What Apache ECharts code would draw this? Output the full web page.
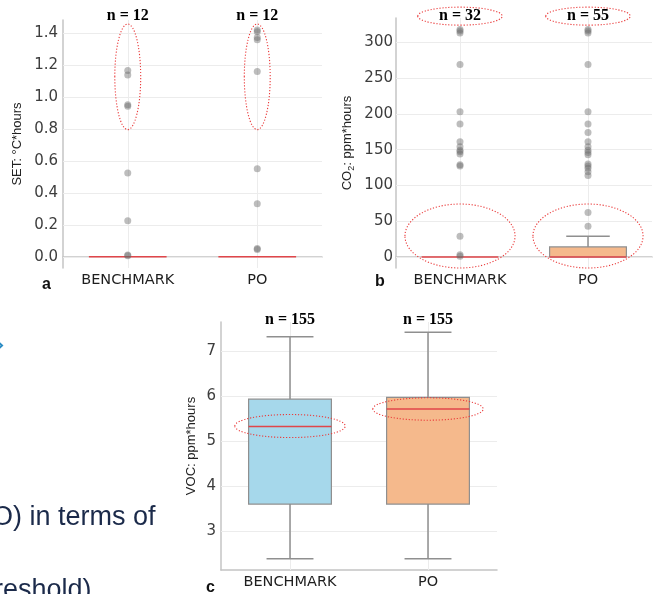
<!DOCTYPE html>
<html><head><meta charset="utf-8">
<script src="https://cdn.jsdelivr.net/npm/echarts@6/dist/echarts.min.js"></script>
<style>html,body{margin:0;padding:0;background:#fff;overflow:hidden}#c{width:664px;height:594px}</style>
</head><body><div id="c"></div>
<script>
// ---------- data ----------
const categories = ['BENCHMARK', 'PO'];

// Panel a: SET (°C*hours) — outlier points and box stats [min, q1, median, q3, max]
const setBenchmarkPoints = [1.164, 1.137, 0.951, 0.941, 0.524, 0.225, 0.012, 0.006];
const setPoPoints = [1.417, 1.406, 1.37, 1.357, 1.158, 0.551, 0.332, 0.052, 0.046];
const setBoxes = [[0, 0, 0, 0, 0], [0, 0, 0, 0, 0]];
const setTicks = [0, 0.2, 0.4, 0.6, 0.8, 1.0, 1.2, 1.4];
const setCounts = ['n = 12', 'n = 12'];

// Panel b: CO2 (ppm*hours)
const co2BenchmarkPoints = [318, 316, 313, 269, 203, 186, 161, 154, 149, 147, 144, 129, 127, 29, 3, 1];
const co2PoPoints = [318, 316, 313, 269, 203, 186, 174, 161, 154, 149, 146, 143, 130, 127, 124, 119, 114, 62, 43];
const co2Boxes = [[0, 0, 0, 0, 0], [0, 0, 0, 14, 29]];
const co2Ticks = [0, 50, 100, 150, 200, 250, 300];
const co2Counts = ['n = 32', 'n = 55'];

// Panel c: VOC (ppm*hours)
const vocBoxes = [[2.38, 3.6, 5.33, 5.94, 7.33], [2.38, 3.6, 5.72, 5.98, 7.43]];
const vocTicks = [3, 4, 5, 6, 7];
const vocCounts = ['n = 155', 'n = 155'];

// highlight annotations: [categoryIndex, centre value, half-height in value units, half-width as share of category band]
const setHighlights = [[0, 1.125, 0.33, 0.1], [1, 1.125, 0.33, 0.1]];
const co2Highlights = [[0, 336.6, 12.6, 0.33], [1, 336.6, 12.6, 0.33], [0, 29.3, 44.7, 0.43], [1, 29.3, 44.7, 0.43]];
const vocHighlights = [[0, 5.34, 0.257, 0.40], [1, 5.72, 0.25, 0.40]];
// value level of the "n = " labels in each panel
const countLevels = [1.506, 336.6, 7.71];

// ---------- styling ----------
const GRAY = '#8f8f8f';
const MEDIAN = '#e0464a';
const GRID = '#ececec';
const AXIS = '#c4c4c4';
const PT = 'rgba(105,105,105,0.55)';
const fills = [['#a6d8eb', '#f5b98c'], ['#a6d8eb', '#f5b98c'], ['#a6d8eb', '#f5b98c']];

const chart = echarts.init(document.getElementById('c'), null, {renderer: 'canvas'});

function boxRender(colors) {
  return function (params, api) {
    const ci = api.value(0);
    const mn = api.value(1), q1 = api.value(2), md = api.value(3), q3 = api.value(4), mx = api.value(5);
    const band = api.size([1, 0])[0];
    const half = band * 0.3, cap = band * 0.17;
    const pMin = api.coord([ci, mn]), pQ1 = api.coord([ci, q1]), pMd = api.coord([ci, md]);
    const pQ3 = api.coord([ci, q3]), pMx = api.coord([ci, mx]);
    const x = pMd[0];
    const ls = {stroke: GRAY, lineWidth: 1.5};
    const children = [];
    if (mx > q3) {
      children.push({type: 'line', shape: {x1: x, y1: pQ3[1], x2: x, y2: pMx[1]}, style: ls});
      children.push({type: 'line', shape: {x1: x - cap, y1: pMx[1], x2: x + cap, y2: pMx[1]}, style: ls});
    }
    if (mn < q1) {
      children.push({type: 'line', shape: {x1: x, y1: pQ1[1], x2: x, y2: pMin[1]}, style: ls});
      children.push({type: 'line', shape: {x1: x - cap, y1: pMin[1], x2: x + cap, y2: pMin[1]}, style: ls});
    }
    if (q3 > q1) {
      children.push({type: 'rect', shape: {x: x - half, y: pQ3[1], width: half * 2, height: pQ1[1] - pQ3[1]},
        style: {fill: colors[ci], stroke: GRAY, lineWidth: 1.2}});
    }
    children.push({type: 'line', shape: {x1: x - half, y1: pMd[1], x2: x + half, y2: pMd[1]},
      style: {stroke: MEDIAN, lineWidth: 1.6}});
    return {type: 'group', children};
  };
}

const grids = [
  {left: 63, top: 20, width: 259, height: 248},
  {left: 396, top: 18, width: 256, height: 250},
  {left: 221, top: 322, width: 276, height: 248}
];
const yRanges = [[-0.07, 1.48, 8], [-15.4, 334, 7], [2.13, 7.66, 5]];
const tickSets = [setTicks, co2Ticks, vocTicks];
const fmt = [v => v.toFixed(1), v => String(v), v => String(v)];
const names = ['SET: °C*hours', 'CO{sub|2}: ppm*hours', 'VOC: ppm*hours'];
const nameGaps = [39, 40, 23];
const labelMargins = [5, 3, 5];

const xAxes = grids.map((g, i) => ({
  type: 'category', gridIndex: i, data: categories,
  axisLine: {show: true, lineStyle: {color: AXIS, width: 1.5}},
  axisTick: {show: false},
  axisLabel: {color: '#1e1e1e', fontSize: 14.5, fontFamily: 'DejaVu Sans', margin: 5},
  splitLine: {show: false}
}));

const yAxes = grids.map((g, i) => ({
  type: 'value', gridIndex: i, min: yRanges[i][0], max: yRanges[i][1], splitNumber: yRanges[i][2],
  axisLine: {show: true, lineStyle: {color: AXIS, width: 1.5}},
  axisTick: {show: false},
  splitLine: {show: false},
  axisLabel: {
    color: '#3d3d3d', fontSize: 15, fontFamily: 'DejaVu Sans', margin: labelMargins[i],
    showMinLabel: false, showMaxLabel: false,
    formatter: v => {
      const hit = tickSets[i].find(t => Math.abs(t - v) < 1e-6);
      return hit === undefined ? '' : fmt[i](hit);
    }
  },
  name: names[i], nameLocation: 'middle', nameGap: nameGaps[i], nameRotate: 90,
  nameTextStyle: {
    color: '#222', fontSize: 13, fontFamily: 'Liberation Sans',
    rich: {sub: {fontSize: 9, verticalAlign: 'bottom', padding: [8, 0, 0, 0], color: '#222', fontFamily: 'Liberation Sans'}}
  }
}));

function gridMarks(i) {
  return {
    silent: true, symbol: 'none', z: 1,
    label: {show: false},
    lineStyle: {color: GRID, type: 'solid', width: 1},
    data: tickSets[i].map(t => ({yAxis: t})).concat(categories.map(c => ({xAxis: c})))
  };
}

const pointsPerPanel = [
  [setBenchmarkPoints, setPoPoints],
  [co2BenchmarkPoints, co2PoPoints],
  [[], []]
];
const boxesPerPanel = [setBoxes, co2Boxes, vocBoxes];

const series = [];
for (let i = 0; i < 3; i++) {
  series.push({
    type: 'custom', xAxisIndex: i, yAxisIndex: i, z: 3,
    renderItem: boxRender(fills[i]),
    encode: {x: 0, y: [1, 2, 3, 4, 5]},
    data: boxesPerPanel[i].map((b, k) => [k].concat(b))
  });
  const pts = [];
  pointsPerPanel[i].forEach((arr, k) => arr.forEach(v => pts.push([k, v])));
  series.push({
    type: 'scatter', xAxisIndex: i, yAxisIndex: i, z: 4,
    symbolSize: 7, itemStyle: {color: PT},
    data: pts,
    markLine: gridMarks(i)
  });
}

chart.setOption({
  animation: false,
  backgroundColor: '#fff',
  grid: grids,
  xAxis: xAxes,
  yAxis: yAxes,
  series
});

// ---------- annotations anchored to the axes ----------
const countSets = [setCounts, co2Counts, vocCounts];
const highlightSets = [setHighlights, co2Highlights, vocHighlights];
const graphics = [];
for (let i = 0; i < 3; i++) {
  const p0 = chart.convertToPixel({gridIndex: i}, [0, countLevels[i]]);
  const p1 = chart.convertToPixel({gridIndex: i}, [1, countLevels[i]]);
  const band = p1[0] - p0[0];
  countSets[i].forEach((t, k) => {
    const p = chart.convertToPixel({gridIndex: i}, [k, countLevels[i]]);
    graphics.push({type: 'text', x: p[0], y: p[1], z: 20,
      style: {text: t, fill: '#000', font: 'bold 16px "Liberation Serif"', align: 'center', verticalAlign: 'middle'}});
  });
  highlightSets[i].forEach(h => {
    const c = chart.convertToPixel({gridIndex: i}, [h[0], h[1]]);
    const t = chart.convertToPixel({gridIndex: i}, [h[0], h[1] + h[2]]);
    graphics.push({type: 'ellipse', z: 21,
      shape: {cx: c[0], cy: c[1], rx: band * h[3], ry: Math.abs(c[1] - t[1])},
      style: {fill: 'none', stroke: '#ea3b3b', lineWidth: 1.1, lineDash: [1.2, 1.8]}});
  });
}
// panel letters
graphics.push({type: 'text', left: 42, top: 277, style: {text: 'a', fill: '#111', font: 'bold 16px "Liberation Sans"'}});
graphics.push({type: 'text', left: 375, top: 274, style: {text: 'b', fill: '#111', font: 'bold 16px "Liberation Sans"'}});
graphics.push({type: 'text', left: 206, top: 580, style: {text: 'c', fill: '#111', font: 'bold 16px "Liberation Sans"'}});
// cropped surrounding page text
graphics.push({type: 'polyline', shape: {points: [[-3, 341], [2, 345.5], [-3, 350]]},
  style: {stroke: '#2b8cc4', lineWidth: 2, fill: 'none'}});
graphics.push({type: 'text', x: -8, y: 504, style: {text: 'O) in terms of', fill: '#1b2a4a', font: '27px "Liberation Sans"', verticalAlign: 'top'}});
graphics.push({type: 'text', x: -6, y: 577, style: {text: 'reshold)', fill: '#1b2a4a', font: '27px "Liberation Sans"', verticalAlign: 'top'}});

chart.setOption({graphic: graphics});
</script>
</body></html>
